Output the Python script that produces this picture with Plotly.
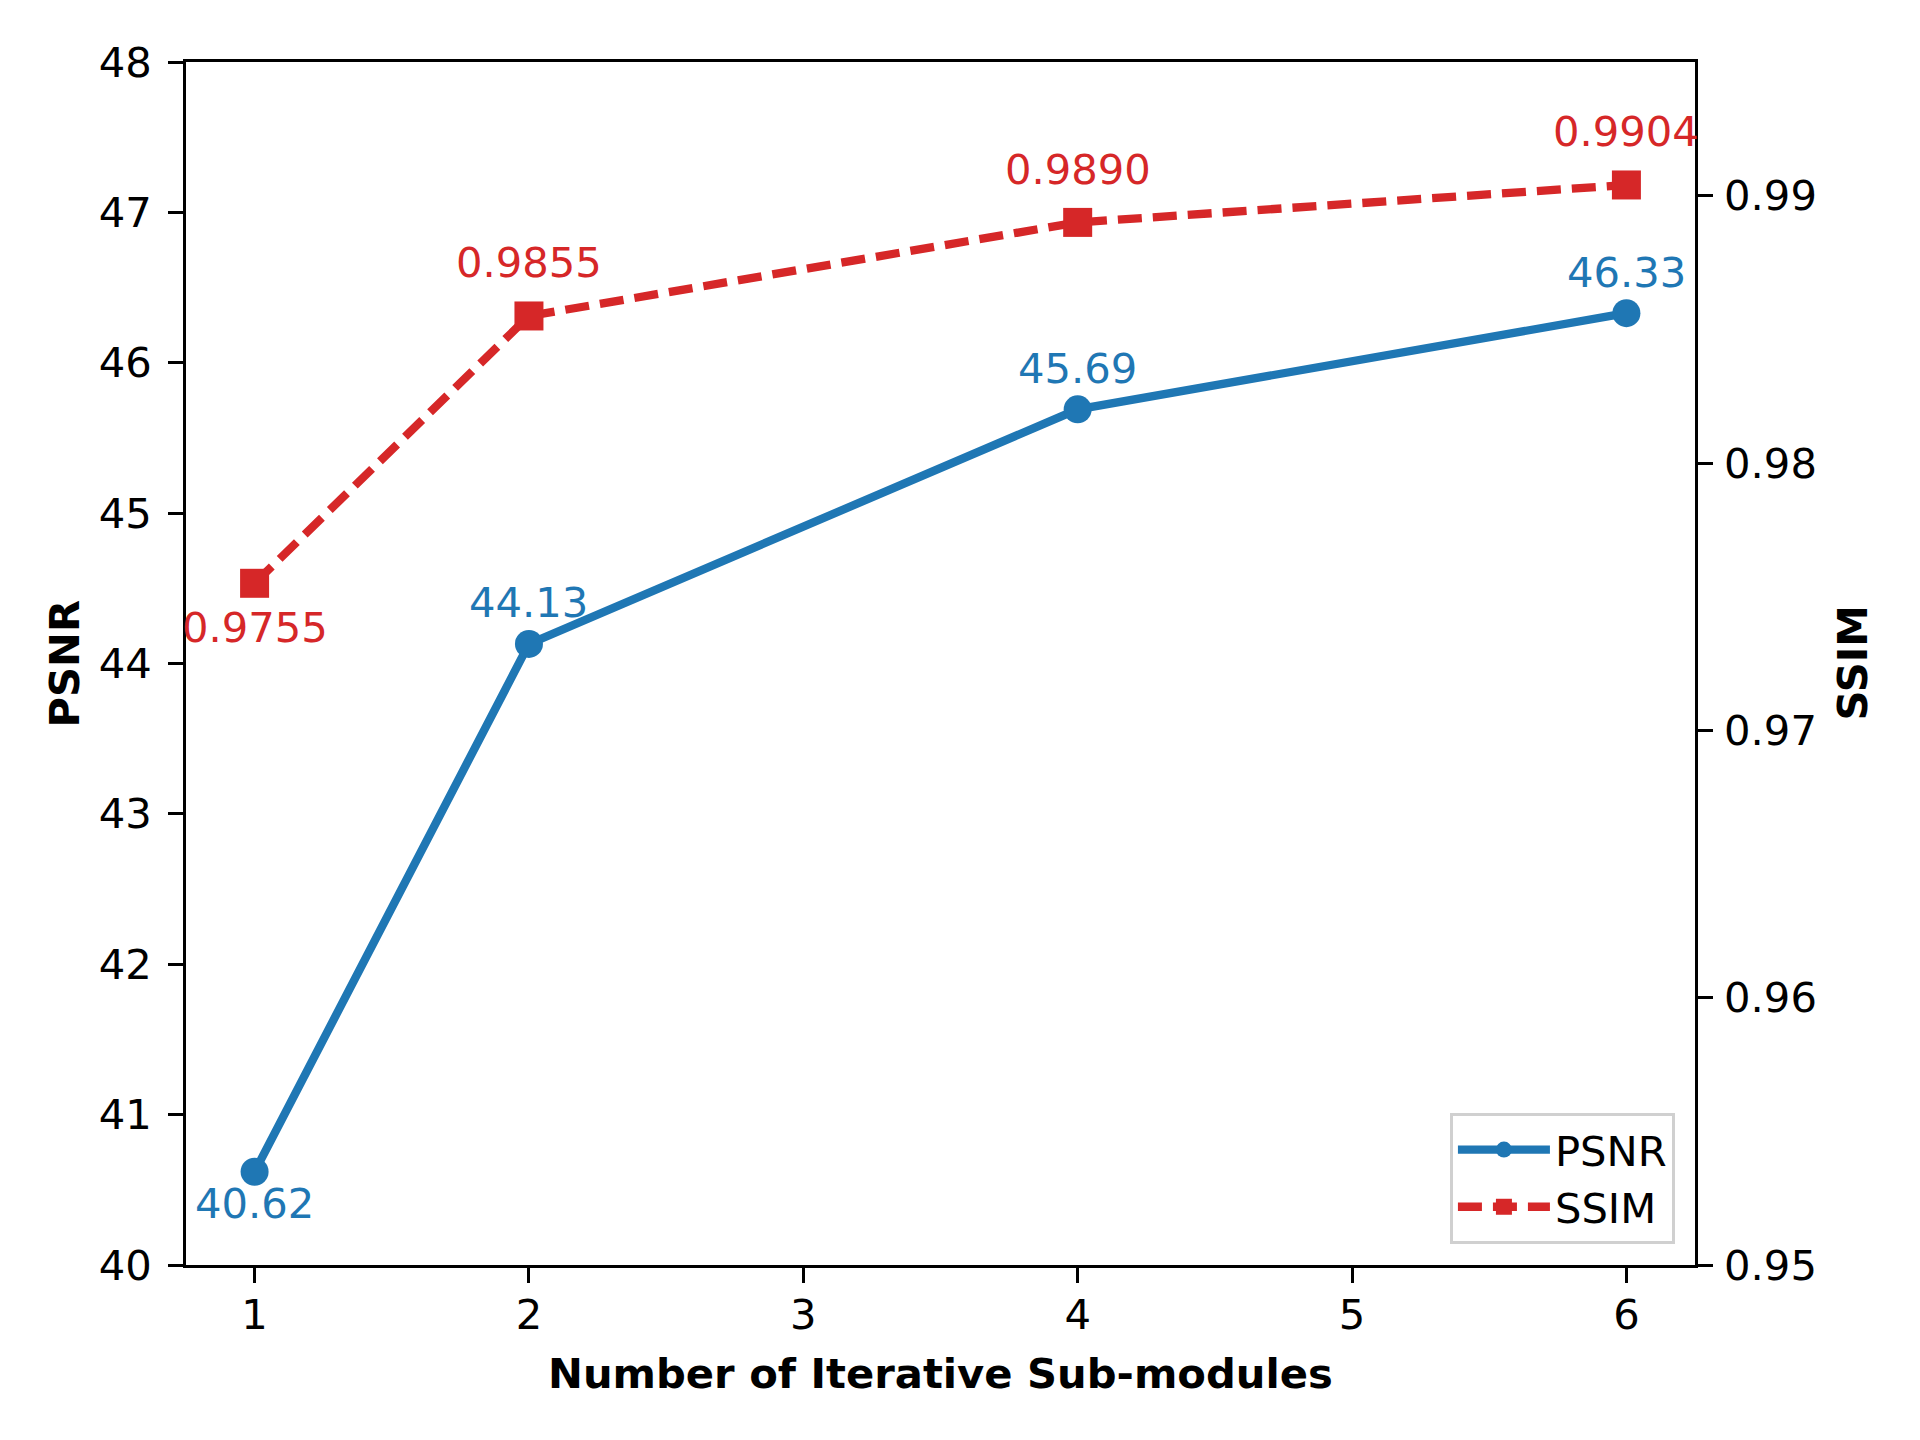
import plotly.graph_objects as go

# ---- data ----
modules = [1, 2, 4, 6]
psnr = [40.62, 44.13, 45.69, 46.33]
ssim = [0.9755, 0.9855, 0.9890, 0.9904]
x_ticks = [1, 2, 3, 4, 5, 6]
psnr_ticks = [40, 41, 42, 43, 44, 45, 46, 47, 48]
ssim_ticks = [0.95, 0.96, 0.97, 0.98, 0.99]

BLUE = "#1f77b4"
RED = "#d62728"
FONT = "DejaVu Sans"
FS = 41.7
LW = 3.33

fig = go.Figure()
fig.add_trace(go.Scatter(
    x=modules, y=psnr, name="PSNR", mode="lines+markers",
    line=dict(color=BLUE, width=8.3),
    marker=dict(symbol="circle", size=28, color=BLUE),
    yaxis="y",
))
fig.add_trace(go.Scatter(
    x=modules, y=ssim, name="SSIM", mode="lines+markers",
    line=dict(color=RED, width=8.3, dash="24px,11px"),
    marker=dict(symbol="square", size=29, color=RED),
    yaxis="y2",
))

annotations = []
for i, (xv, yv) in enumerate(zip(modules, psnr)):
    annotations.append(dict(
        x=xv, y=yv, xref="x", yref="y", text=f"{yv:.2f}", showarrow=False,
        xanchor="center", yanchor="middle", yshift=(-32 if i == 0 else 41),
        font=dict(family=FONT, size=FS, color=BLUE),
    ))
for i, (xv, yv) in enumerate(zip(modules, ssim)):
    annotations.append(dict(
        x=xv, y=yv, xref="x", yref="y2", text=f"{yv:.4f}", showarrow=False,
        xanchor="center", yanchor="middle", yshift=(-44 if i == 0 else 53),
        font=dict(family=FONT, size=FS, color=RED),
    ))

# axis titles
annotations.append(dict(
    x=0.5, y=-0.0898, xref="paper", yref="paper", text="<b>Number of Iterative Sub-modules</b>",
    showarrow=False, xanchor="center", yanchor="middle",
    font=dict(family=FONT, size=FS, color="black"),
))
annotations.append(dict(
    x=-(186 - 64) / 1509, y=0.5, xref="paper", yref="paper", text="<b>PSNR</b>",
    showarrow=False, xanchor="center", yanchor="middle", textangle=-90,
    font=dict(family=FONT, size=FS, color="black"),
))
annotations.append(dict(
    x=(1852 - 186) / 1509, y=0.5, xref="paper", yref="paper", text="<b>SSIM</b>",
    showarrow=False, xanchor="center", yanchor="middle", textangle=-90,
    font=dict(family=FONT, size=FS, color="black"),
))

axis_common = dict(
    showgrid=False, zeroline=False, showline=True, linecolor="black", linewidth=LW,
    ticks="outside", ticklen=14.6, tickwidth=LW, tickcolor="black",
    tickfont=dict(family=FONT, size=FS, color="black"),
)

fig.update_layout(
    width=1912, height=1432, autosize=False,
    margin=dict(l=178, r=225, t=54, b=175, pad=0),
    paper_bgcolor="white", plot_bgcolor="white",
    font=dict(family=FONT, size=FS, color="black"),
    xaxis=dict(range=[0.75, 6.25], tickvals=x_ticks, mirror=True,
               ticklabelstandoff=-4, **axis_common),
    yaxis=dict(range=[40, 48], tickvals=psnr_ticks, side="left",
               ticklabelstandoff=8, **axis_common),
    yaxis2=dict(range=[0.95, 0.995], tickvals=ssim_ticks, overlaying="y", side="right",
                ticklabelstandoff=3, **axis_common),
    legend=dict(
        x=0.9867, y=0.0175, xanchor="right", yanchor="bottom",
        bgcolor="rgba(255,255,255,0.8)", bordercolor="#d0d0d0", borderwidth=3,
        font=dict(family=FONT, size=FS, color="black"),
        itemwidth=92,
    ),
    showlegend=True,
    annotations=annotations,
)

fig.write_html("out.html")
